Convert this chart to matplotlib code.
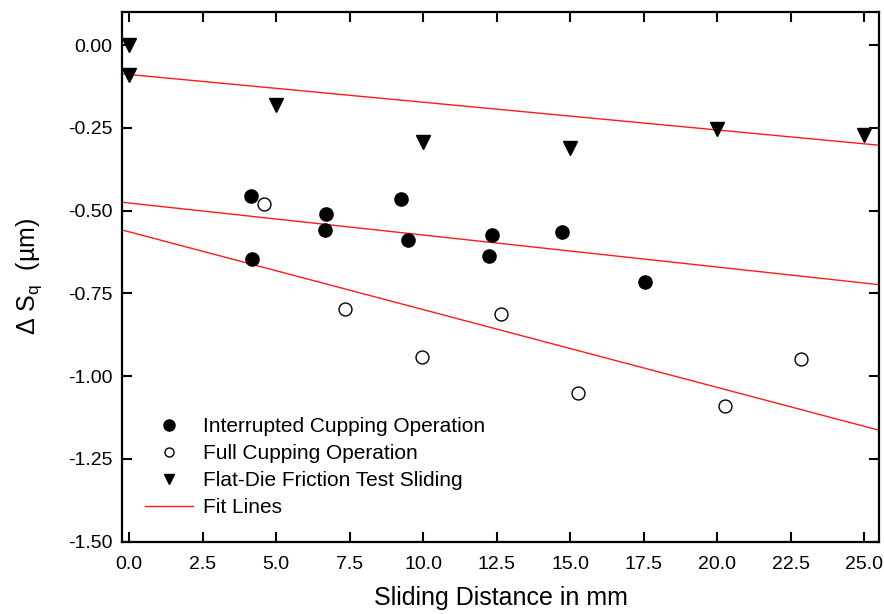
import numpy as np
import matplotlib
matplotlib.use("Agg")
import matplotlib.pyplot as plt
from matplotlib.lines import Line2D

plt.rcParams['font.family'] = ['Liberation Sans', 'DejaVu Sans']
plt.rcParams['axes.unicode_minus'] = False
plt.rcParams['mathtext.fontset'] = 'custom'
plt.rcParams['mathtext.rm'] = 'Liberation Sans'

# Data
interrupted_x = [4.14, 4.17, 6.69, 6.67, 9.24, 9.47, 12.34, 12.23, 14.71, 17.55]
interrupted_y = [-0.456, -0.647, -0.511, -0.559, -0.466, -0.589, -0.574, -0.637, -0.564, -0.715]

full_x = [4.60, 7.33, 9.97, 12.64, 15.25, 20.27, 22.85]
full_y = [-0.480, -0.798, -0.942, -0.813, -1.052, -1.091, -0.947]

flat_x = [0.0, 0.0, 5.0, 10.0, 15.0, 20.0, 25.0]
flat_y = [0.0, -0.091, -0.181, -0.292, -0.312, -0.252, -0.272]

# Fit lines: intercept and slope
fit_intercepts = [-0.0888, -0.477, -0.564]
fit_slopes = [-0.00838, -0.00967, -0.0235]

x_ticks = [0.0, 2.5, 5.0, 7.5, 10.0, 12.5, 15.0, 17.5, 20.0, 22.5, 25.0]
y_ticks = [0.00, -0.25, -0.50, -0.75, -1.00, -1.25, -1.50]

fig = plt.figure(figsize=(8.84, 6.14), dpi=100)
ax = fig.add_axes([0.138, 0.1178, 0.8563, 0.8627])

xlim = (-0.24, 25.5)
ax.set_xlim(*xlim)
ax.set_ylim(-1.5, 0.1)

xs = np.array(xlim)
for b, m in zip(fit_intercepts, fit_slopes):
    ax.plot(xs, b + m * xs, color='#ff1a1a', lw=1.0, zorder=2)

ax.plot(interrupted_x, interrupted_y, 'o', ms=9.5, mfc='black', mec='black', zorder=3)
ax.plot(full_x, full_y, 'o', ms=9.3, mfc='white', mec='black', mew=1.0, zorder=3)
ax.plot(flat_x, flat_y, 'v', ms=10, mfc='black', mec='black', zorder=3)

ax.set_xticks(x_ticks)
ax.set_xticklabels([f"{v:.1f}" for v in x_ticks])
ax.set_yticks(y_ticks)
ax.set_yticklabels([f"{v:.2f}" for v in y_ticks])

ax.tick_params(direction='in', length=7, width=1.5, labelsize=14, top=True, right=True)
ax.tick_params(axis='x', pad=10)
ax.tick_params(axis='y', pad=7)
for s in ax.spines.values():
    s.set_linewidth(1.6)

ax.set_xlabel('Sliding Distance in mm', fontsize=18, labelpad=10)
ax.set_ylabel(r'Δ S$_{\mathregular{q}}$  (µm)', fontsize=18, labelpad=17)

handles = [
    Line2D([], [], ls='none', marker='o', ms=8, mfc='black', mec='black'),
    Line2D([], [], ls='none', marker='o', ms=6.5, mfc='white', mec='black', mew=1.0),
    Line2D([], [], ls='none', marker='v', ms=7.5, mfc='black', mec='black'),
    Line2D([], [], color='#ff1a1a', lw=1.0),
]
labels = ['Interrupted Cupping Operation', 'Full Cupping Operation',
          'Flat-Die Friction Test Sliding', 'Fit Lines']
ax.legend(handles, labels, loc='upper left', bbox_to_anchor=(0.030, 0.2355),
          frameon=False, fontsize=15, handlelength=2.3, handletextpad=0.5,
          labelspacing=0.39, borderpad=0, borderaxespad=0)

fig.savefig('out.png', dpi=100)
